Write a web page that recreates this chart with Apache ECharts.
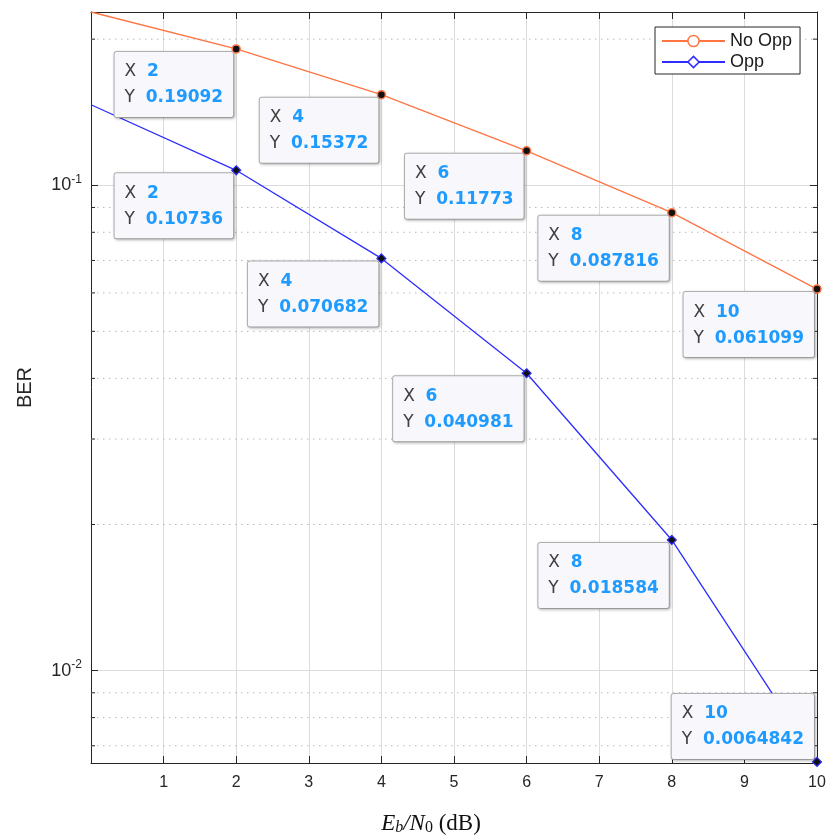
<!DOCTYPE html>
<html>
<head>
<meta charset="utf-8">
<script src="https://cdn.jsdelivr.net/npm/echarts@6/dist/echarts.min.js"></script>
<style>html,body{margin:0;padding:0;background:#fff}#c{width:829px;height:838px}</style>
</head>
<body>
<div id="c"></div>
<script>
// ---- data ----
const xValues = [0, 2, 4, 6, 8, 10];
const noOpp = [0.2275, 0.19092, 0.15372, 0.11773, 0.087816, 0.061099];
const opp = [0.1465, 0.10736, 0.070682, 0.040981, 0.018584, 0.0064842];
const seriesNames = ['No Opp', 'Opp'];
const xTickLabels = ['', '1', '2', '3', '4', '5', '6', '7', '8', '9', '10'];
const minorYTicks = [0.007, 0.008, 0.009, 0.02, 0.03, 0.04, 0.05, 0.06, 0.07, 0.08, 0.09, 0.2];

const ORANGE = '#ff7443';
const BLUE = '#2d2dff';
const AX = '#262626';
const Y_MIN = 0.00645, Y_MAX = 0.2275, X_MIN = 0, X_MAX = 10;

const tipRich = {
  k: {color: '#404040', fontSize: 17, fontFamily: 'DejaVu Sans', lineHeight: 26, align: 'left'},
  v: {color: '#1f9bff', fontSize: 17, fontWeight: 'bold', fontFamily: 'DejaVu Sans', lineHeight: 26, align: 'left'}
};
function tipLabel(above) {
  return {
    show: true,
    position: ['50%', '50%'],
    align: 'right',
    verticalAlign: above ? 'bottom' : 'top',
    offset: above ? [-3, -3] : [-3, 3],
    formatter: p => '{k|X  }{v|' + p.value[0] + '}\n{k|Y  }{v|' + p.value[1] + '}',
    rich: tipRich,
    backgroundColor: '#f8f8fc',
    borderColor: '#b4b4b4',
    borderWidth: 1,
    borderRadius: 2,
    padding: [7, 10, 6, 10],
    shadowColor: 'rgba(0,0,0,0.22)',
    shadowBlur: 3,
    shadowOffsetX: 1,
    shadowOffsetY: 1
  };
}
function buildData(vals, aboveIdx) {
  return xValues.map((x, i) => i === 0
    ? {value: [x, vals[i]], symbol: 'none', label: {show: false}}
    : {value: [x, vals[i]], label: tipLabel(i === aboveIdx)});
}

const chart = echarts.init(document.getElementById('c'));
chart.setOption({
  animation: false,
  backgroundColor: '#fff',
  textStyle: {fontFamily: 'Liberation Sans'},
  grid: {left: 91, right: 12, top: 12, bottom: 75, containLabel: false, outerBoundsMode: 'none'},
  legend: {
    orient: 'vertical', left: 655, top: 27,
    itemWidth: 63, itemHeight: 14, itemGap: 3,
    padding: [5, 8, 3, 6],
    borderColor: AX, borderWidth: 1, backgroundColor: '#fff',
    textStyle: {fontSize: 18, color: '#1a1a1a', fontFamily: 'Liberation Sans'},
    data: [
      {name: seriesNames[0], itemStyle: {color: '#fff', borderColor: ORANGE, borderWidth: 1.5}},
      {name: seriesNames[1], itemStyle: {color: '#fff', borderColor: BLUE, borderWidth: 1.5}}
    ]
  },
  xAxis: [{
    type: 'value', min: X_MIN, max: X_MAX, interval: 1,
    axisLine: {show: true, onZero: false, lineStyle: {color: AX, width: 1}},
    axisTick: {show: true, inside: true, length: 7, lineStyle: {color: AX}},
    axisLabel: {fontSize: 16, color: AX, margin: 12, formatter: v => xTickLabels[Math.round(v)] || ''},
    splitLine: {show: true, lineStyle: {color: '#dcdcdc', width: 1}},
    name: '{i|E}{is|b}{i|/N}{s|0}{r| (dB)}',
    nameLocation: 'middle', nameGap: 48,
    nameTextStyle: {
      padding: [0, 46, 0, 0],
      rich: {
        i: {fontFamily: 'Liberation Serif', fontStyle: 'italic', fontSize: 23, color: '#111'},
        is: {fontFamily: 'Liberation Serif', fontStyle: 'italic', fontSize: 16, color: '#111', padding: [9, 0, 0, 0]},
        s: {fontFamily: 'Liberation Serif', fontSize: 16, color: '#111', padding: [9, 0, 0, 0]},
        r: {fontFamily: 'Liberation Serif', fontSize: 23, color: '#111'}
      }
    }
  }, {
    type: 'value', position: 'top', min: X_MIN, max: X_MAX, interval: 1,
    axisLine: {show: true, onZero: false, lineStyle: {color: AX, width: 1}},
    axisTick: {show: true, inside: true, length: 7, lineStyle: {color: AX}},
    axisLabel: {show: false}, splitLine: {show: false}
  }],
  yAxis: [{
    type: 'log', logBase: 10, min: Y_MIN, max: Y_MAX,
    axisLine: {show: true, onZero: false, lineStyle: {color: AX, width: 1}},
    axisTick: {show: true, inside: true, length: 7, lineStyle: {color: AX}},
    axisLabel: {
      showMinLabel: false, showMaxLabel: false, margin: 9,
      formatter: v => '{b|10}{s|' + Math.round(Math.log10(v)) + '}',
      rich: {
        b: {fontSize: 18, color: AX, fontFamily: 'Liberation Sans'},
        s: {fontSize: 12, color: AX, fontFamily: 'Liberation Sans', padding: [0, 0, 12, 0]}
      }
    },
    splitLine: {show: true, lineStyle: {color: '#dcdcdc', width: 1}},
    name: 'BER', nameLocation: 'middle', nameGap: 56,
    nameTextStyle: {fontSize: 20, color: AX, fontFamily: 'Liberation Sans'}
  }, {
    type: 'log', logBase: 10, min: Y_MIN, max: Y_MAX, position: 'right',
    axisLine: {show: true, onZero: false, lineStyle: {color: AX, width: 1}},
    axisTick: {show: true, inside: true, length: 7, lineStyle: {color: AX}},
    axisLabel: {show: false}, splitLine: {show: false}
  }],
  series: [{
    type: 'custom', silent: true, z: 1,
    coordinateSystem: 'cartesian2d', xAxisIndex: 0, yAxisIndex: 0,
    data: minorYTicks.map(v => [X_MIN, v]),
    renderItem: (params, api) => {
      const v = api.value(1);
      const a = api.coord([X_MIN, v]);
      const b = api.coord([X_MAX, v]);
      return {
        type: 'group',
        children: [
          {type: 'line', shape: {x1: a[0], y1: a[1], x2: b[0], y2: b[1]},
           style: {stroke: '#b8b8b8', lineWidth: 1, lineDash: [1.5, 4.5]}},
          {type: 'line', shape: {x1: a[0], y1: a[1], x2: a[0] + 4, y2: a[1]},
           style: {stroke: AX, lineWidth: 1}},
          {type: 'line', shape: {x1: b[0] - 4, y1: b[1], x2: b[0], y2: b[1]},
           style: {stroke: AX, lineWidth: 1}}
        ]
      };
    }
  }, {
    name: seriesNames[0], type: 'line', z: 3,
    data: buildData(noOpp, -1),
    symbol: 'circle', symbolSize: 8,
    lineStyle: {color: ORANGE, width: 1.3},
    itemStyle: {color: '#111', borderColor: ORANGE, borderWidth: 1.5},
    emphasis: {disabled: true}
  }, {
    name: seriesNames[1], type: 'line', z: 3,
    data: buildData(opp, 5),
    symbol: 'diamond', symbolSize: 9,
    lineStyle: {color: BLUE, width: 1.3},
    itemStyle: {color: '#111', borderColor: BLUE, borderWidth: 1.2},
    emphasis: {disabled: true}
  }]
});
</script>
</body>
</html>
